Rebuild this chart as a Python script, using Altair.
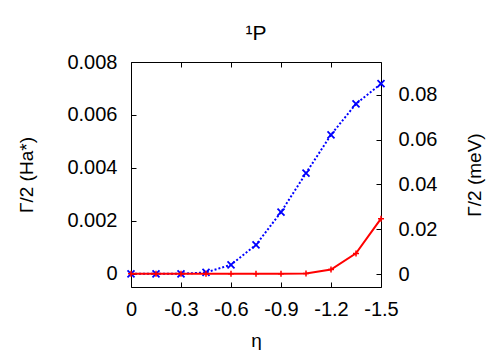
import altair as alt
import pandas as pd

# ---- data ----
eta = [0, -0.15, -0.3, -0.45, -0.6, -0.75, -0.9, -1.05, -1.2, -1.35, -1.5]
gamma_blue = [0, 0, 0, 0.00005, 0.00034, 0.00109, 0.00233, 0.0038, 0.00525, 0.00642, 0.00718]
gamma_red = [0, 0, 0, 0, 0, 0, 0, 0.00001, 0.00016, 0.00077, 0.00208]
x_ticks = [0, -0.3, -0.6, -0.9, -1.2, -1.5]
ha_ticks = [0, 0.002, 0.004, 0.006, 0.008]
mev_ticks = [0, 0.02, 0.04, 0.06, 0.08]
x_domain = [0, -1.5]
ha_domain = [-0.0005, 0.008]
mev_domain = [-0.0058, 0.0946]
HA_TO_MEV = 11.83

df_blue = pd.DataFrame({"eta": eta, "ha": gamma_blue})
df_red = pd.DataFrame({"eta": eta, "ha": gamma_red})

FONT = "Liberation Sans"
TICK = 5
LBL = "'' + datum.value"

xs = alt.Scale(domain=x_domain, nice=False, zero=False)
ys_ha = alt.Scale(domain=ha_domain, nice=False, zero=False)
ys_mev = alt.Scale(domain=mev_domain, nice=False, zero=False)


def tick_axis(orient, values):
    return alt.Axis(orient=orient, values=values, labels=False, ticks=True,
                    tickSize=TICK, offset=-TICK, domain=False, title=None, grid=False)


x_label_axis = alt.Axis(orient="bottom", values=x_ticks, ticks=False, tickSize=0,
                        labelPadding=12, labelExpr=LBL, domain=False, grid=False,
                        labelOverlap=False, labelFlush=False, labelBound=False,
                        title="η", titlePadding=12)
y_label_axis = alt.Axis(orient="left", values=ha_ticks, ticks=False, tickSize=0,
                        labelPadding=14, labelExpr=LBL, domain=False, grid=False,
                        labelOverlap=False, labelFlush=False, labelBound=False,
                        title="Γ/2 (Ha*)", titlePadding=30)
y2_label_axis = alt.Axis(orient="right", values=mev_ticks, ticks=False, tickSize=0,
                         labelPadding=17, labelExpr=LBL, domain=False, grid=False,
                         labelOverlap=False, labelFlush=False, labelBound=False,
                         title="Γ/2 (meV)", titlePadding=29, titleAngle=270,
                         titleBaseline="top")

blue_line = alt.Chart(df_blue).mark_line(color="#0000ff", strokeWidth=2,
                                         strokeDash=[2, 2]).encode(
    x=alt.X("eta:Q", scale=xs, axis=x_label_axis),
    y=alt.Y("ha:Q", scale=ys_ha, axis=y_label_axis),
)
blue_pts = alt.Chart(df_blue).mark_point(
    shape="M-1,-1L1,1M-1,1L1,-1", filled=False, color="#0000ff",
    strokeWidth=1.8, size=49, opacity=1).encode(
    x=alt.X("eta:Q", scale=xs, axis=tick_axis("bottom", x_ticks)),
    y=alt.Y("ha:Q", scale=ys_ha, axis=tick_axis("left", ha_ticks)),
)
red_line = alt.Chart(df_red).mark_line(color="#ff0000", strokeWidth=2).encode(
    x=alt.X("eta:Q", scale=xs, axis=tick_axis("top", x_ticks)),
    y=alt.Y("ha:Q", scale=ys_ha, axis=None),
)
red_pts = alt.Chart(df_red).mark_point(
    shape="M-1,0L1,0M0,-1L0,1", filled=False, color="#ff0000",
    strokeWidth=1.5, size=36, opacity=1).encode(
    x=alt.X("eta:Q", scale=xs, axis=None),
    y=alt.Y("ha:Q", scale=ys_ha, axis=None),
)
mev_labels = alt.Chart(df_blue).transform_calculate(
    mev=f"datum.ha * {HA_TO_MEV}").mark_point(opacity=0).encode(
    x=alt.X("eta:Q", scale=xs, axis=None),
    y=alt.Y("mev:Q", scale=ys_mev, axis=y2_label_axis),
)
mev_ticks_layer = alt.Chart(df_blue).transform_calculate(
    mev=f"datum.ha * {HA_TO_MEV}").mark_point(opacity=0).encode(
    x=alt.X("eta:Q", scale=xs, axis=None),
    y=alt.Y("mev:Q", scale=ys_mev, axis=tick_axis("right", mev_ticks)),
)

chart = alt.layer(
    blue_line, blue_pts, red_line, red_pts, mev_labels, mev_ticks_layer
).resolve_scale(
    y="independent"
).resolve_axis(
    x="independent", y="independent"
).properties(
    width=250, height=225,
    title=alt.TitleParams("¹P", font=FONT, fontSize=21, fontWeight="normal",
                          color="black", offset=8),
    autosize=alt.AutoSizeParams(type="none"),
    padding={"left": 123, "top": 54, "right": 111, "bottom": 63},
).configure_view(
    stroke="black", strokeWidth=1
).configure_axis(
    labelFont=FONT, labelFontSize=20, labelColor="black",
    titleFont=FONT, titleFontSize=19, titleFontWeight="normal", titleColor="black",
    tickColor="black", tickWidth=1,
)

chart.save("out.html", embed_options={"renderer": "svg", "actions": False})
